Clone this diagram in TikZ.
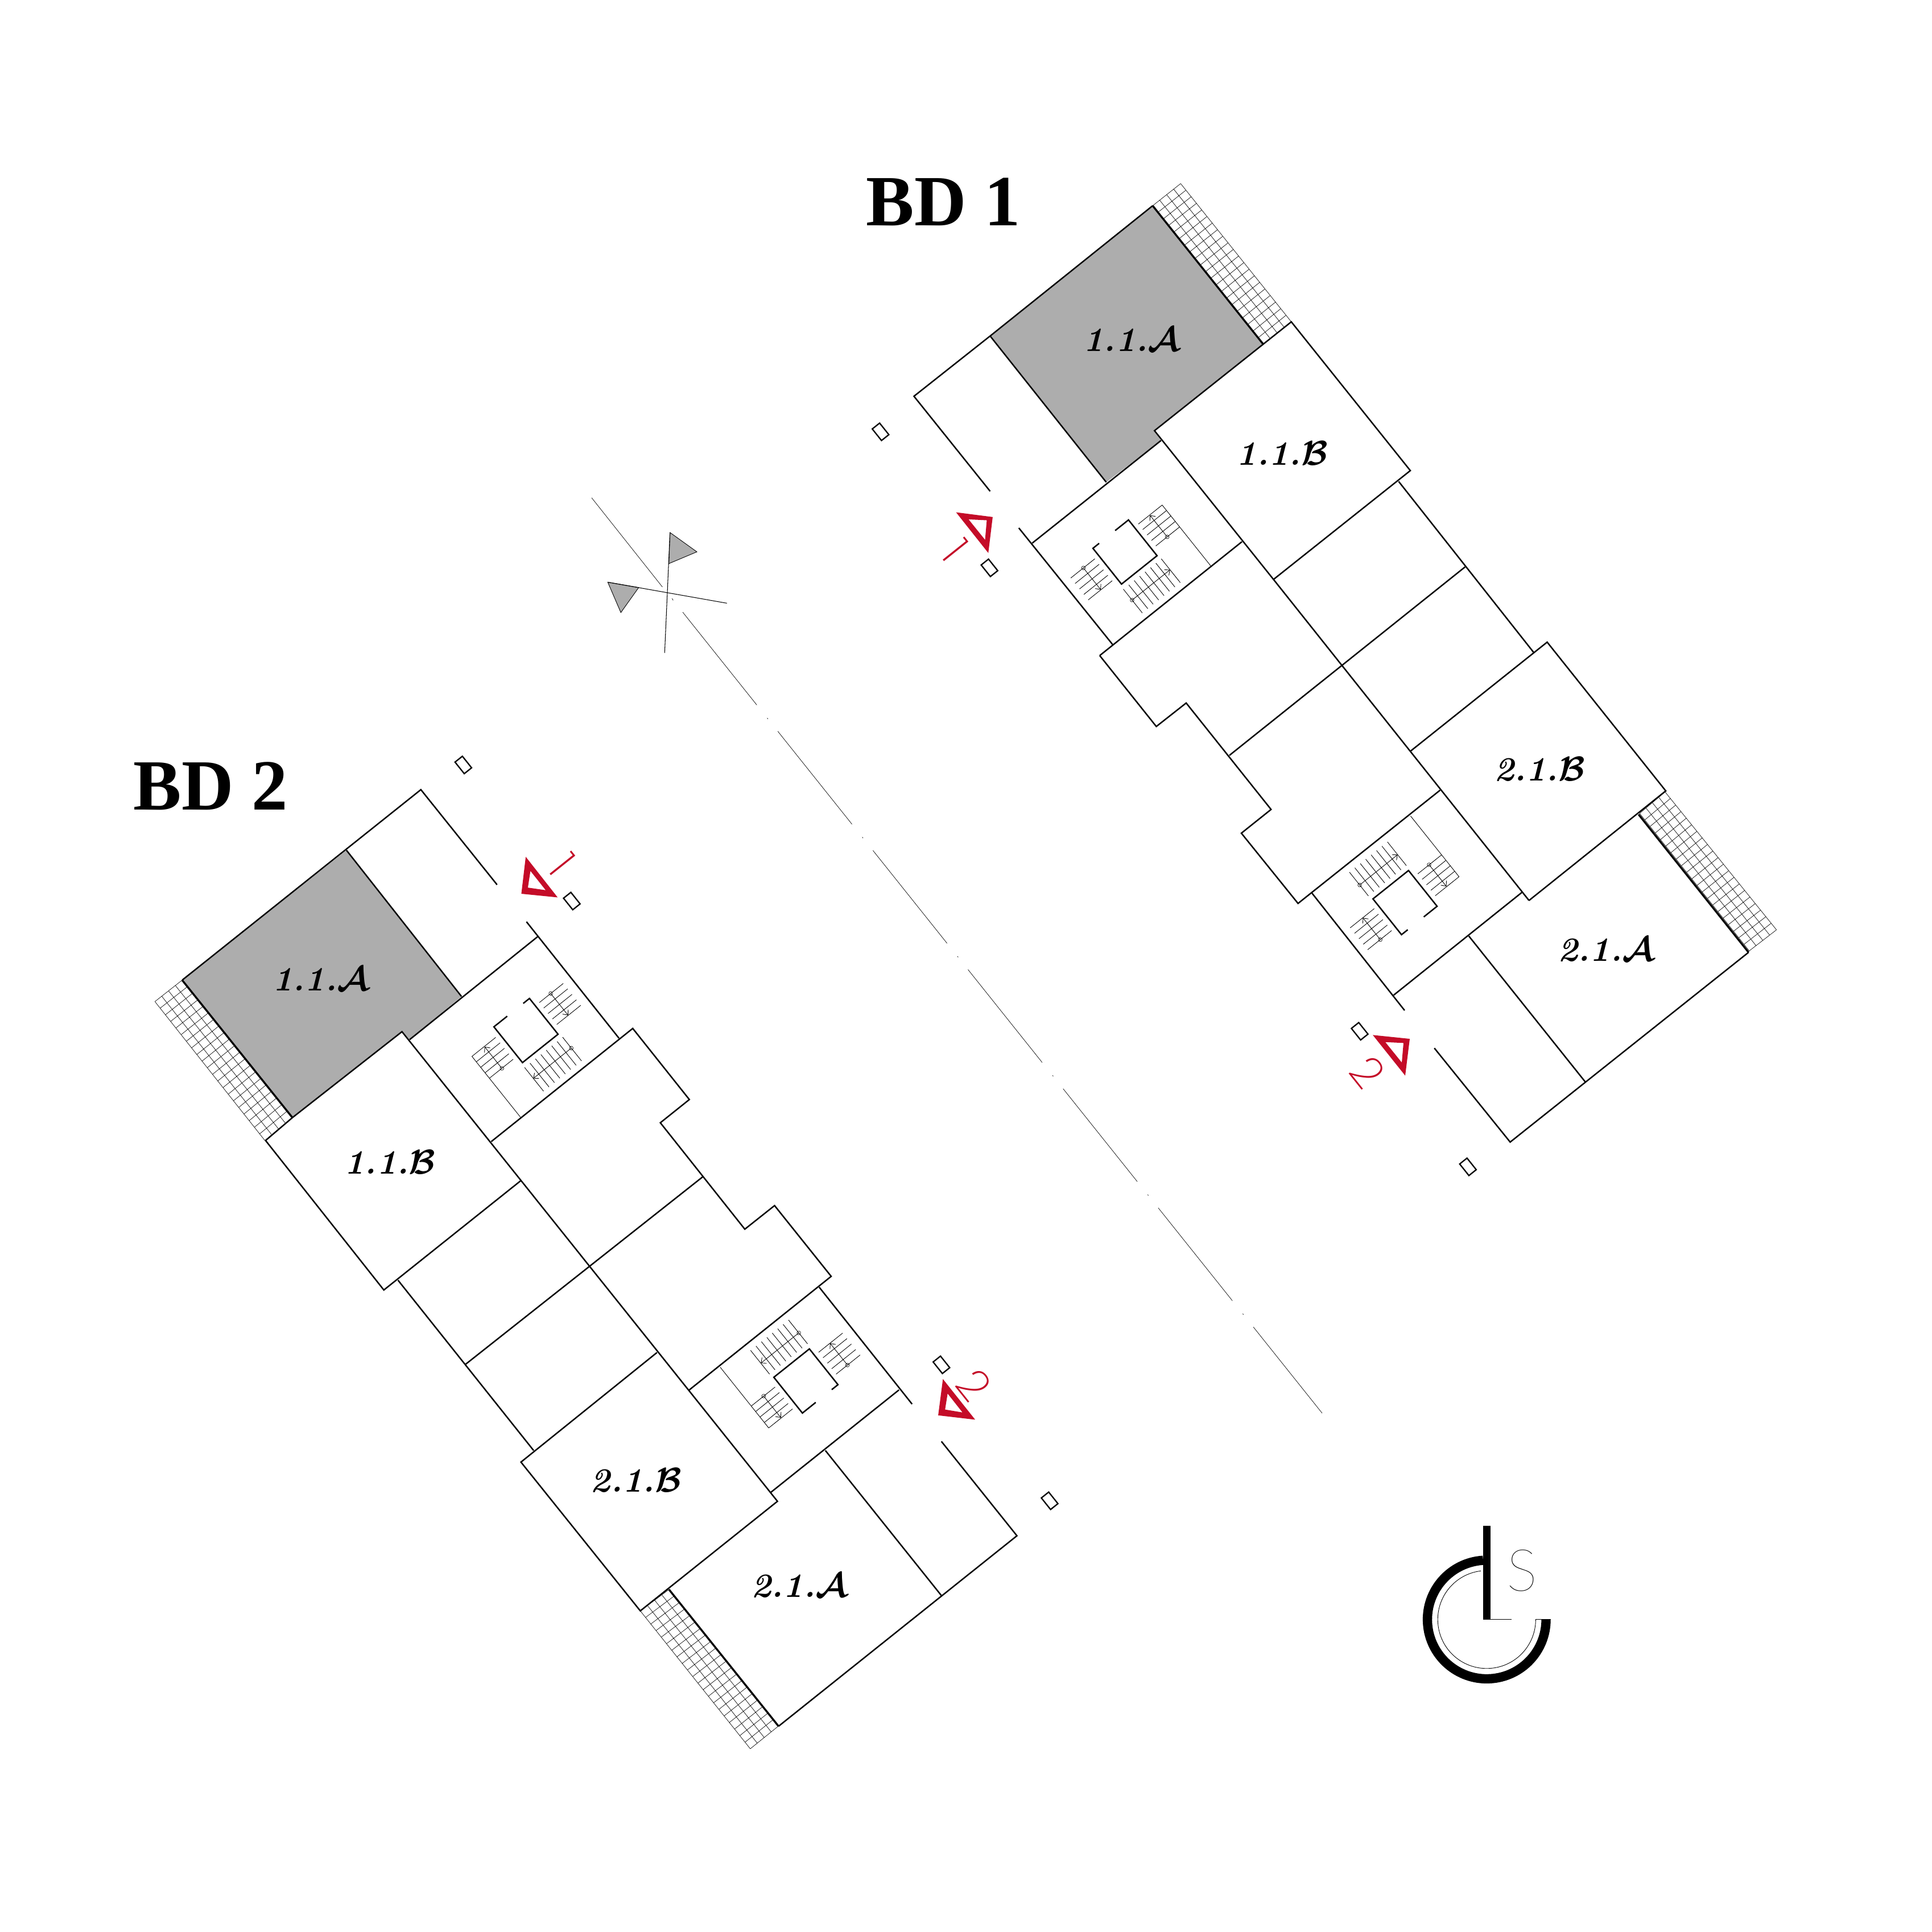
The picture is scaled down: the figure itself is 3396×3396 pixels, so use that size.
\documentclass[tikz,border=0pt]{standalone}
\usepackage{fontspec}
\usepackage{amsmath}
\usetikzlibrary{arrows.meta,calc}
\newfontfamily\headfont{Liberation Serif}
\newfontfamily\hairfont{Lato Hairline}
\newfontfamily\numfont{Poppins ExtraLight}
\definecolor{secred}{RGB}{196,12,40}
\definecolor{roomgray}{RGB}{173,173,173}
\tikzset{
	x=0.01cm,y=-0.01cm,
	wall/.style={line width=0.7pt,line cap=butt,line join=miter},
	thickwall/.style={line width=0.95pt},
	thinline/.style={line width=0.25pt},
	gridline/.style={line width=0.19pt},
	stairarrow/.style={thinline,-{Straight Barb[length=2pt,width=3.6pt]}},
	secmark/.style={fill=secred,even odd rule},
	pylon/.style={draw,rectangle,rotate=-51.4,minimum width=7.4pt,minimum height=4.7pt,inner sep=0pt,line width=0.65pt},
	unitlabel/.style={inner sep=0pt,font=\fontsize{17}{17}\selectfont\boldmath\bfseries\itshape},
	bdlabel/.style={anchor=base west,inner sep=0pt,font=\headfont\bfseries\fontsize{36}{36}\selectfont},
	secnumber/.style={inner sep=0pt,rotate=-51.4,text=secred,font=\numfont\fontsize{22}{22}\selectfont}
}
\newcommand{\stairwell}[1]{
	\begin{scope}[#1]
		\draw[wall] (14,-80.5) -- (0,-80.5) -- (0,0) -- (80,0) -- (80,-80.5) -- (50,-80.5);
		\foreach \a in {0,...,7}
			\draw[thinline] ({-3+\a*12.2},9) -- ({-3+\a*12.2},62.5);
		\foreach \b in {0,...,4}{
			\draw[thinline] (-63,{-64+\b*12.3}) -- (-9,{-64+\b*12.3});
			\draw[thinline] (89,{-64+\b*12.3}) -- (142.6,{-64+\b*12.3});
		}
		\draw[thinline] (142.6,-64) -- (142.6,72.6);
		\draw[gridline] (-3,33.6) circle[radius=3.3];
		\draw[stairarrow] (-3,33.6) -- (82.4,33.6);
		\draw[gridline] (-34.6,-64) circle[radius=3.3];
		\draw[stairarrow] (-34.6,-64) -- (-34.6,-14.9);
		\draw[gridline] (114.6,-14.7) circle[radius=3.3];
		\draw[stairarrow] (114.6,-14.7) -- (114.6,-63.4);
	\end{scope}
}
\newcommand{\gridpatch}[6]{
	\foreach \i in {0,...,#5}
		\draw[gridline] ($(#1)!\i/#5!(#2)$) -- ($(#4)!\i/#5!(#3)$);
	\foreach \j in {0,...,#6}
		\draw[gridline] ($(#1)!\j/#6!(#4)$) -- ($(#2)!\j/#6!(#3)$);
}
\begin{document}
\begin{tikzpicture}
	\useasboundingbox (0,0) rectangle (3396,3396);

	\fill[roomgray] (1740.4,590.6) -- (2026.1,361.6) -- (2220.7,605.3) -- (2029.3,757) -- (2040.8,774.3) -- (1944.5,847.6) -- cycle;
	\fill[roomgray] (609,1494.5) -- (811.2,1751.5) -- (720,1827.4) -- (706.6,1813.4) -- (514,1964.5) -- (320.2,1722.8) -- cycle;

	\gridpatch{2026.1,361.6}{2075.3,322.7}{2269.8,565.7}{2220.7,605.3}{4}{21}
	\gridpatch{2882,1429.7}{2926.8,1392}{3122.6,1634.4}{3074.7,1671.4}{4}{21}
	\gridpatch{320.2,1722.8}{272.3,1760.5}{465.6,2004.7}{514,1964.5}{4}{21}
	\gridpatch{1175.9,2793.9}{1125.5,2831.5}{1318.8,3073.9}{1367.9,3034.3}{4}{21}

	\begin{scope}[wall]
		\draw (1740.4,863.5) -- (1606.5,696.5) -- (1740.4,590.6) -- (2026.1,361.6);
		\draw (1740.4,590.6) -- (1944.5,847.6);
		\draw (1814.4,954.7) -- (2040.8,774.3);
		\draw (2029.3,757) -- (2269.8,565.7) -- (2479,827.2) -- (2238.5,1018.5) -- cycle;
		\draw (2238.5,1018.5) -- (2687.6,1582.8);
		\draw (1790.8,928) -- (1956,1133.3);
		\draw (1933,1152.3) -- (2183,952.2);
		\draw (1933,1152.3) -- (2032.5,1277) -- (2085,1235.7) -- (2234.2,1422.8) -- (2182,1464.5) -- (2281.6,1588) -- (2531.4,1388.9);
		\draw (2161,1327.7) -- (2575.4,996.4);
		\draw (2458.5,846.3) -- (2696.6,1147.8);
		\draw (2479.7,1320) -- (2719.5,1128.7) -- (2928,1390.2) -- (2687.6,1582.8);
		\draw (2306.2,1570) -- (2468.9,1776);
		\draw (2449.7,1749.2) -- (2674.9,1568.8);
		\draw (2581.8,1645.3) -- (2786.5,1901.7);
		\draw (2521.2,1842.3) -- (2654.5,2007.5) -- (3073.5,1674);

		\draw (873.7,1555.1) -- (739.8,1388) -- (320.2,1722.8);
		\draw (609,1494.5) -- (811.2,1751.5);
		\draw (720,1827.4) -- (945.2,1646.3);
		\draw (925.4,1620.2) -- (1088,1824.9);
		\draw (514,1964.5) -- (706.6,1813.4) -- (1366.6,2638.9) -- (1125.5,2831.5) -- (915.7,2570) -- (1154.8,2377.4);
		\draw (514,1964.5) -- (466.8,2004.7) -- (674.7,2267.5) -- (915.2,2075.5);
		\draw (863.5,2006.6) -- (1112.2,1807.7) -- (1211.7,1932.7) -- (1160.7,1973.5) -- (1309.2,2160.6) -- (1361.5,2119.1) -- (1461,2243.5) -- (1211.6,2443.1);
		\draw (1235.3,2068.5) -- (818.7,2397.8);
		\draw (699.6,2250.3) -- (938,2549.6);
		\draw (1440,2262.6) -- (1603.2,2468);
		\draw (1580.2,2443.1) -- (1355.1,2623);
		\draw (1450.8,2549.6) -- (1654.8,2804.7);
		\draw (1654.8,2533.7) -- (1787.5,2699.5) -- (1368.5,3034.3);
	\end{scope}

	\draw[thickwall] (2026.1,361.6) -- (2220.7,605.3);
	\draw[thickwall] (2880.2,1431.6) -- (3073.5,1674);
	\draw[thickwall] (320.2,1722.8) -- (514,1964.5);
	\draw[thickwall] (1175.9,2793.9) -- (1368.5,3034.3);

	\stairwell{shift={(1971.3,1026.7)},rotate=38.6}
	\stairwell{shift={(2413.3,1580)},rotate=38.6,yscale=-1}
	\stairwell{shift={(980.9,1817.9)},rotate=38.6,xscale=-1}
	\stairwell{shift={(1422.7,2371)},rotate=38.6,xscale=-1,yscale=-1}

	\node[pylon] (pyl1) at (1547.8,759) {};
	\node[pylon] (pyl2) at (1739.2,998.1) {};
	\node[pylon] (pyl3) at (2390,1812.7) {};
	\node[pylon] (pyl4) at (2580.3,2051) {};
	\node[pylon] (pyl5) at (814.4,1344.6) {};
	\node[pylon] (pyl6) at (1005.1,1583.8) {};
	\node[pylon] (pyl7) at (1654.8,2399) {};
	\node[pylon] (pyl8) at (1845,2638) {};

	\fill[secmark] (1680.5,900.5) -- (1744.9,908.8) -- (1737.2,972) -- cycle (1702.5,912.9) -- (1734.5,914.5) -- (1731.5,948.9) -- cycle;
	\fill[secmark] (2413,1819.3) -- (2478,1826) -- (2470,1890.7) -- cycle (2435,1831.7) -- (2467,1833.3) -- (2464,1867.7) -- cycle;
	\fill[secmark] (924.1,1506) -- (916.4,1571) -- (980.2,1577.4) -- cycle (932.4,1530.9) -- (927.9,1560.2) -- (959.2,1564.7) -- cycle;
	\fill[secmark] (1657.4,2424) -- (1649.1,2487.8) -- (1714.1,2495.4) -- cycle (1665.7,2449.5) -- (1661.2,2477.6) -- (1691.8,2482.7) -- cycle;

	\node[secnumber] (num1a) at (1679,967.5) {1};
	\node[secnumber] (num2a) at (2403.8,1884.4) {2};
	\node[secnumber] (num1b) at (988.5,1519.4) {1};
	\node[secnumber] (num2b) at (1712.2,2434.8) {2};

	\node[bdlabel] (bd1) at (1522,396) {BD 1};
	\node[bdlabel] (bd2) at (234,1423) {BD 2};

	\node[unitlabel] (a11a) at (1989,597) {1.1.$\mathcal{A}$};
	\node[unitlabel] (a11b) at (2253.8,796.6) {1.1.$\mathcal{B}$};
	\node[unitlabel] (a21b) at (2706,1352) {2.1.$\mathcal{B}$};
	\node[unitlabel] (a21a) at (2822.8,1669) {2.1.$\mathcal{A}$};
	\node[unitlabel] (b11a) at (563.8,1720.9) {1.1.$\mathcal{A}$};
	\node[unitlabel] (b11b) at (685.6,2043) {1.1.$\mathcal{B}$};
	\node[unitlabel] (b21b) at (1117.9,2602.6) {2.1.$\mathcal{B}$};
	\node[unitlabel] (b21a) at (1404.8,2786.9) {2.1.$\mathcal{A}$};

	\draw[gridline] (1040,875) -- (1164.3,1031.7);
	\draw[gridline] (1181.3,1052) -- (1183.3,1055.3);
	\draw[gridline,dash pattern=on 59.4pt off 8.3pt on 0.6pt off 7.9pt] (1200,1076) -- (2324,2484);

	\fill[roomgray,draw=black,thinline] (1177.7,936) -- (1225,970) -- (1175.7,990.7) -- cycle;
	\fill[roomgray,draw=black,thinline] (1068.3,1023.3) -- (1122.7,1032.7) -- (1091.3,1076.7) -- cycle;
	\draw[line width=0.3pt] (1177.7,936) -- (1168.3,1147.7);
	\draw[line width=0.3pt] (1068.3,1023.3) -- (1277.7,1060.3);

	\coordinate (logoc) at (2613.3,2846.7);
	\draw[line width=4.64pt] ([shift={(93.5:1.042cm)}]logoc) arc[start angle=93.5,end angle=360,radius=1.042cm];
	\draw[thinline] ([shift={(97:0.86cm)}]logoc) arc[start angle=97,end angle=360,radius=0.86cm];
	\draw[thinline] (2699.3,2846.7) -- (2726,2846.7);
	\fill (2607,2682) rectangle (2620,2847);
	\draw[thinline] (2620,2846.7) -- (2656.7,2846.7);
	\node[inner sep=0pt,font=\hairfont\fontsize{29}{29}\selectfont] (logos) at (2675,2761) {S};
\end{tikzpicture}
\end{document}
